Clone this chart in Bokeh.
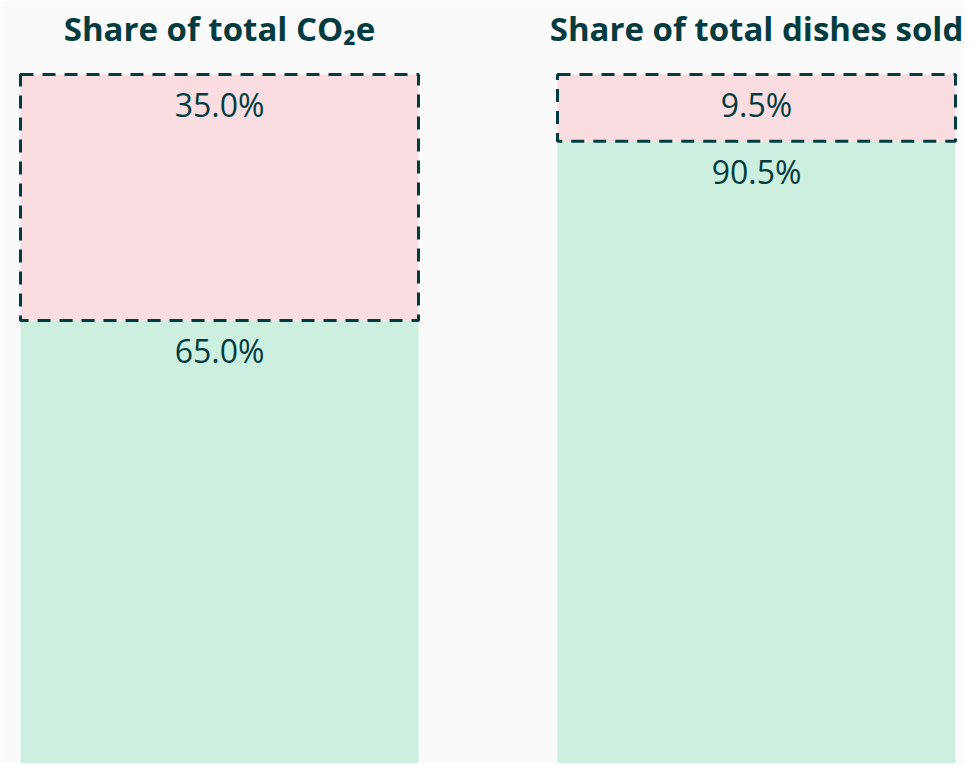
from bokeh.plotting import figure
from bokeh.models import Range1d, ColumnDataSource
from bokeh.core.properties import value
from bokeh.embed import file_html
from bokeh.resources import INLINE

# Data
panels = ["Share of total CO\u2082e", "Share of total dishes sold"]
high_share = [35.0, 9.5]     # pink, dashed segment (top)
low_share = [65.0, 90.5]     # green segment (bottom)

DARK = "#023c3f"
PINK = "#fadde1"
GREEN = "#cdefdf"
BG = "#fafafa"
FONT = "Open Sans"

W, H = 964, 763
SP = 537.0          # px between bar centres
ppu = 7.03          # px per percentage point
p = figure(width=W, height=H, output_backend="svg", toolbar_location=None,
           min_border=0, background_fill_color=BG, border_fill_color=BG,
           outline_line_color=None)
x0 = -219 / SP
p.x_range = Range1d(x0, x0 + W / SP)
p.y_range = Range1d(100 - (H - 74) / ppu, 100 + 74 / ppu)
p.axis.visible = False
p.grid.visible = False

xs = list(range(len(panels)))
tops_high = [l + h for l, h in zip(low_share, high_share)]
src = ColumnDataSource(dict(x=xs, low=low_share, high=high_share,
                            hb=low_share, ht=tops_high,
                            lowlab=[f"{v:.1f}%" for v in low_share],
                            highlab=[f"{v:.1f}%" for v in high_share],
                            title=panels,
                            ty=[t + 46 / ppu for t in tops_high]))

BW = 398 / SP
p.vbar(x="x", width=BW, bottom=0, top="low", source=src,
       fill_color=GREEN, line_color=None)
p.vbar(x="x", width=BW, bottom="hb", top="ht", source=src,
       fill_color=PINK, line_color=DARK, line_width=3, line_dash="13 9")

for col, ycol in (("highlab", "ht"), ("lowlab", "low")):
    p.text(x="x", y=ycol, text=col, source=src, y_offset=30,
           text_align="center", text_baseline="middle", text_color=DARK,
           text_font=value(FONT), text_font_size="32px")
p.text(x="x", y="ty", text="title", source=src,
       text_align="center", text_baseline="middle", text_color=DARK,
       text_font=value(FONT), text_font_size="33px", text_font_style="bold")

open("out.html", "w").write(file_html(p, INLINE))
